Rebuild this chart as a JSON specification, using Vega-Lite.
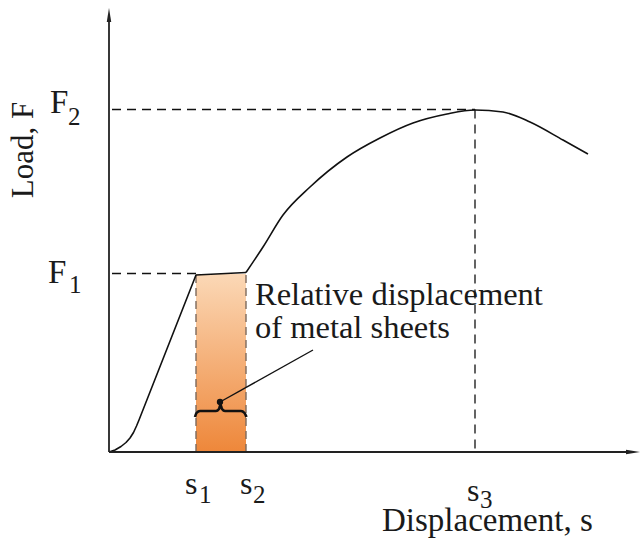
{
  "$schema": "https://vega.github.io/schema/vega-lite/v6.json",
  "width": 640,
  "height": 538,
  "padding": 0,
  "autosize": {"type": "fit", "contains": "padding"},
  "background": "white",
  "config": {"view": {"stroke": null}, "axis": {"disable": true}},
  "datasets": {
    "lower": [
      {"s": 0, "F": 0}, {"s": 6, "F": 2}, {"s": 12, "F": 5.5}, {"s": 17, "F": 9.5}, {"s": 21, "F": 14},
      {"s": 24.5, "F": 19.5}, {"s": 27.5, "F": 26}, {"s": 30, "F": 32}, {"s": 87, "F": 177},
      {"s": 137, "F": 179.5}
    ],
    "upper": [
      {"s": 137, "F": 179.5}, {"s": 154, "F": 205}, {"s": 174, "F": 237}, {"s": 201, "F": 265},
      {"s": 238, "F": 295}, {"s": 271, "F": 314}, {"s": 304, "F": 329}, {"s": 338, "F": 338},
      {"s": 366, "F": 342}, {"s": 394, "F": 340}, {"s": 421, "F": 330}, {"s": 454, "F": 312},
      {"s": 479, "F": 298}
    ],
    "band": [{"s": 87, "s2": 137, "F": 0, "F2": 178}],
    "guides": [
      {"s": 3, "F": 178.5, "s2": 87, "F2": 178.5},
      {"s": 3, "F": 342.5, "s2": 366, "F2": 342.5},
      {"s": 366, "F": 342.5, "s2": 366, "F2": 0}
    ],
    "edges": [
      {"s": 87, "F": 0, "s2": 87, "F2": 177},
      {"s": 137, "F": 0, "s2": 137, "F2": 179}
    ],
    "axes": [
      {"s": 0, "F": 0, "s2": 524, "F2": 0},
      {"s": 0, "F": 0, "s2": 0, "F2": 434}
    ],
    "arrowUp": [{"s": 0, "F": 437}],
    "arrowRight": [{"s": 524, "F": 0}],
    "brace": [
      {"s": 86, "F": 35}, {"s": 87.5, "F": 39}, {"s": 91, "F": 41}, {"s": 107, "F": 41},
      {"s": 110, "F": 43}, {"s": 111.5, "F": 47.5}, {"s": 113, "F": 43}, {"s": 116, "F": 41},
      {"s": 132, "F": 41}, {"s": 135.5, "F": 39}, {"s": 137.5, "F": 35}
    ],
    "leader": [{"s": 111, "F": 50, "s2": 204, "F2": 102}],
    "dot": [{"s": 111, "F": 50}],
    "bigF": [
      {"s": -59, "F": 339, "t": "F"},
      {"s": -61, "F": 169, "t": "F"}
    ],
    "sLetters": [
      {"s": 76, "F": -42, "t": "s"},
      {"s": 131, "F": -42, "t": "s"},
      {"s": 358, "F": -49, "t": "s"}
    ],
    "subs": [
      {"s": -41, "F": 327, "t": "2"},
      {"s": -40, "F": 159, "t": "1"},
      {"s": 90, "F": -51, "t": "1"},
      {"s": 144, "F": -51, "t": "2"},
      {"s": 371, "F": -56, "t": "3"}
    ],
    "notes": [
      {"s": 146, "F": 147, "t": "Relative displacement"},
      {"s": 146, "F": 114, "t": "of metal sheets"}
    ],
    "xlab": [{"s": 273, "F": -79, "t": "Displacement, s"}],
    "ylab": [{"s": -76, "F": 302, "t": "Load, F"}]
  },
  "layer": [
    {
      "data": {"name": "band"},
      "mark": {
        "type": "rect",
        "fill": {"gradient": "linear", "x1": 0, "y1": 0, "x2": 0, "y2": 1,
          "stops": [{"offset": 0, "color": "#fbd8b6"}, {"offset": 1, "color": "#ee873a"}]}
      },
      "encoding": {
        "x": {"field": "s", "type": "quantitative", "scale": {"domain": [-109, 531], "zero": false, "nice": false}},
        "x2": {"field": "s2"},
        "y": {"field": "F", "type": "quantitative", "scale": {"domain": [-86, 452], "zero": false, "nice": false}},
        "y2": {"field": "F2"}
      }
    },
    {
      "data": {"name": "edges"},
      "mark": {"type": "rule", "stroke": "#7d6a5c", "strokeWidth": 1.4, "strokeDash": [8, 5]},
      "encoding": {
        "x": {"field": "s", "type": "quantitative"}, "x2": {"field": "s2"},
        "y": {"field": "F", "type": "quantitative"}, "y2": {"field": "F2"}
      }
    },
    {
      "data": {"name": "guides"},
      "mark": {"type": "rule", "stroke": "#111111", "strokeWidth": 1.3, "strokeDash": [9, 6]},
      "encoding": {
        "x": {"field": "s", "type": "quantitative"}, "x2": {"field": "s2"},
        "y": {"field": "F", "type": "quantitative"}, "y2": {"field": "F2"}
      }
    },
    {
      "data": {"name": "lower"},
      "mark": {"type": "line", "stroke": "#111111", "strokeWidth": 1.6, "interpolate": "linear", "strokeJoin": "round"},
      "encoding": {
        "x": {"field": "s", "type": "quantitative"},
        "y": {"field": "F", "type": "quantitative"}
      }
    },
    {
      "data": {"name": "upper"},
      "mark": {"type": "line", "stroke": "#111111", "strokeWidth": 1.6, "interpolate": "monotone"},
      "encoding": {
        "x": {"field": "s", "type": "quantitative"},
        "y": {"field": "F", "type": "quantitative"}
      }
    },
    {
      "data": {"name": "axes"},
      "mark": {"type": "rule", "stroke": "#222222", "strokeWidth": 1.8},
      "encoding": {
        "x": {"field": "s", "type": "quantitative"}, "x2": {"field": "s2"},
        "y": {"field": "F", "type": "quantitative"}, "y2": {"field": "F2"}
      }
    },
    {
      "data": {"name": "arrowUp"},
      "mark": {"type": "point", "shape": "M0,-1L-0.32,1L0.32,1Z", "size": 196, "filled": true, "color": "#222222", "opacity": 1},
      "encoding": {
        "x": {"field": "s", "type": "quantitative"},
        "y": {"field": "F", "type": "quantitative"}
      }
    },
    {
      "data": {"name": "arrowRight"},
      "mark": {"type": "point", "shape": "M1,0L-1,-0.32L-1,0.32Z", "size": 196, "filled": true, "color": "#222222", "opacity": 1},
      "encoding": {
        "x": {"field": "s", "type": "quantitative"},
        "y": {"field": "F", "type": "quantitative"}
      }
    },
    {
      "data": {"name": "brace"},
      "mark": {"type": "line", "stroke": "#111111", "strokeWidth": 2.6, "interpolate": "monotone"},
      "encoding": {
        "x": {"field": "s", "type": "quantitative"},
        "y": {"field": "F", "type": "quantitative"}
      }
    },
    {
      "data": {"name": "leader"},
      "mark": {"type": "rule", "stroke": "#111111", "strokeWidth": 1.4},
      "encoding": {
        "x": {"field": "s", "type": "quantitative"}, "x2": {"field": "s2"},
        "y": {"field": "F", "type": "quantitative"}, "y2": {"field": "F2"}
      }
    },
    {
      "data": {"name": "dot"},
      "mark": {"type": "point", "shape": "circle", "size": 40, "filled": true, "color": "#111111", "opacity": 1},
      "encoding": {
        "x": {"field": "s", "type": "quantitative"},
        "y": {"field": "F", "type": "quantitative"}
      }
    },
    {
      "data": {"name": "bigF"},
      "mark": {"type": "text", "font": "Liberation Serif", "fontSize": 33, "align": "left", "baseline": "alphabetic", "color": "#1a1a1a"},
      "encoding": {
        "x": {"field": "s", "type": "quantitative"},
        "y": {"field": "F", "type": "quantitative"},
        "text": {"field": "t"}
      }
    },
    {
      "data": {"name": "sLetters"},
      "mark": {"type": "text", "font": "Liberation Serif", "fontSize": 32, "align": "left", "baseline": "alphabetic", "color": "#1a1a1a"},
      "encoding": {
        "x": {"field": "s", "type": "quantitative"},
        "y": {"field": "F", "type": "quantitative"},
        "text": {"field": "t"}
      }
    },
    {
      "data": {"name": "subs"},
      "mark": {"type": "text", "font": "Liberation Serif", "fontSize": 25, "align": "left", "baseline": "alphabetic", "color": "#1a1a1a"},
      "encoding": {
        "x": {"field": "s", "type": "quantitative"},
        "y": {"field": "F", "type": "quantitative"},
        "text": {"field": "t"}
      }
    },
    {
      "data": {"name": "notes"},
      "mark": {"type": "text", "font": "Liberation Serif", "fontSize": 32.5, "align": "left", "baseline": "alphabetic", "color": "#1a1a1a"},
      "encoding": {
        "x": {"field": "s", "type": "quantitative"},
        "y": {"field": "F", "type": "quantitative"},
        "text": {"field": "t"}
      }
    },
    {
      "data": {"name": "xlab"},
      "mark": {"type": "text", "font": "Liberation Serif", "fontSize": 33, "align": "left", "baseline": "alphabetic", "color": "#1a1a1a"},
      "encoding": {
        "x": {"field": "s", "type": "quantitative"},
        "y": {"field": "F", "type": "quantitative"},
        "text": {"field": "t"}
      }
    },
    {
      "data": {"name": "ylab"},
      "mark": {"type": "text", "font": "Liberation Serif", "fontSize": 31, "align": "center", "baseline": "alphabetic", "angle": 270, "color": "#1a1a1a"},
      "encoding": {
        "x": {"field": "s", "type": "quantitative"},
        "y": {"field": "F", "type": "quantitative"},
        "text": {"field": "t"}
      }
    }
  ]
}
